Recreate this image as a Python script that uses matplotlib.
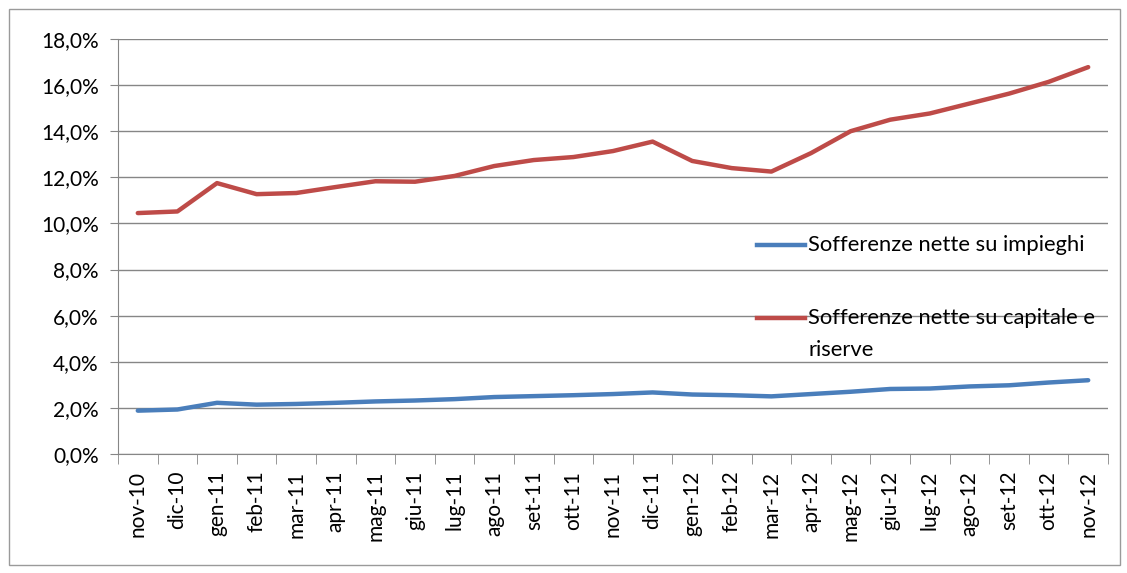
import matplotlib
matplotlib.use("Agg")
import matplotlib.pyplot as plt
from matplotlib.lines import Line2D
from matplotlib.patches import Rectangle
from matplotlib.ticker import FuncFormatter, MultipleLocator
import numpy as np

months = ["nov-10", "dic-10", "gen-11", "feb-11", "mar-11", "apr-11", "mag-11",
          "giu-11", "lug-11", "ago-11", "set-11", "ott-11", "nov-11", "dic-11",
          "gen-12", "feb-12", "mar-12", "apr-12", "mag-12", "giu-12", "lug-12",
          "ago-12", "set-12", "ott-12", "nov-12"]
impieghi = [1.88, 1.93, 2.22, 2.14, 2.17, 2.22, 2.28, 2.32, 2.38, 2.47, 2.51, 2.55,
            2.60, 2.67, 2.58, 2.55, 2.50, 2.60, 2.70, 2.82, 2.84, 2.93, 2.98, 3.10, 3.20]
capitale = [10.45, 10.52, 11.75, 11.27, 11.32, 11.58, 11.83, 11.81, 12.06, 12.49,
            12.75, 12.88, 13.14, 13.55, 12.71, 12.40, 12.25, 13.05, 14.00, 14.50,
            14.77, 15.20, 15.63, 16.14, 16.78]

BLUE = "#4a7ebb"
RED = "#be4b48"
GRID = "#868686"
W, H = 1127, 573

plt.rcParams["font.family"] = ["Lato", "DejaVu Sans"]

fig = plt.figure(figsize=(W / 100, H / 100), dpi=100)
ax = fig.add_axes([118 / W, 1 - 454 / H, 990 / W, 415 / H])

x = np.arange(len(months))
ax.plot(x, impieghi, color=BLUE, lw=3.2, solid_capstyle="round")
ax.plot(x, capitale, color=RED, lw=3.2, solid_capstyle="round")

ax.set_xlim(-0.5, len(months) - 0.5)
ax.set_ylim(0, 18)
ax.yaxis.set_major_locator(MultipleLocator(2))
ax.yaxis.set_major_formatter(FuncFormatter(lambda v, p: f"{v:.1f}%".replace(".", ",")))
ax.grid(axis="y", color=GRID, lw=1)
ax.set_axisbelow(True)

ax.set_xticks(x)
ax.set_xticklabels(months, rotation=90)
ax.set_xticks(np.arange(len(months) + 1) - 0.5, minor=True)
ax.tick_params(axis="x", which="major", length=0, pad=12, labelsize=15)
ax.tick_params(axis="x", which="minor", length=7, color=GRID, direction="out")
ax.tick_params(axis="y", length=6, color=GRID, labelsize=15, pad=8)

for s in ["top", "right"]:
    ax.spines[s].set_visible(False)
for s in ["left", "bottom"]:
    ax.spines[s].set_color(GRID)

# legend drawn by hand so the red handle sits on the first text line, like Excel
def fx(px):
    return px / W

def fy(py):
    return 1 - py / H

for col, ypix in [(BLUE, 245), (RED, 318)]:
    fig.add_artist(Line2D([fx(757), fx(805)], [fy(ypix), fy(ypix)], color=col, lw=3.2,
                          transform=fig.transFigure))
fig.text(fx(808), fy(245), "Sofferenze nette su impieghi", fontsize=15.8, va="center")
fig.text(fx(808), fy(318), "Sofferenze nette su capitale e", fontsize=15.8, va="center")
fig.text(fx(808), fy(350), "riserve", fontsize=15.8, va="center")

fig.add_artist(Rectangle((fx(9), fy(565)), fx(1111), 556 / H, transform=fig.transFigure,
                         fill=False, edgecolor="#9a9a9a", lw=1))

fig.savefig("out.png", dpi=100)
